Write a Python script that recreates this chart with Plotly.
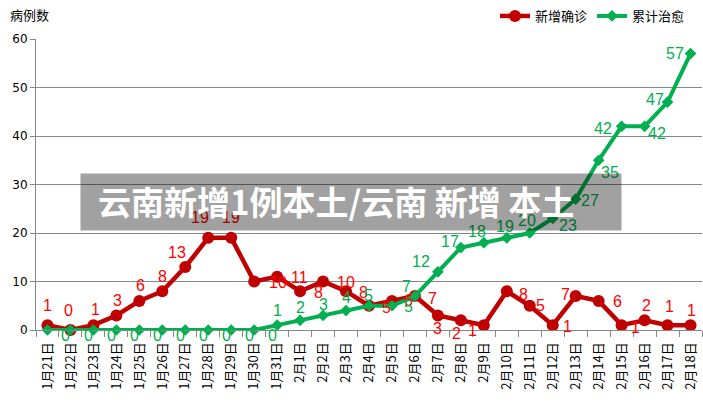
import plotly.graph_objects as go

dates = ["1月21日", "1月22日", "1月23日", "1月24日", "1月25日", "1月26日", "1月27日",
         "1月28日", "1月29日", "1月30日", "1月31日", "2月1日", "2月2日", "2月3日",
         "2月4日", "2月5日", "2月6日", "2月7日", "2月8日", "2月9日", "2月10日",
         "2月11日", "2月12日", "2月13日", "2月14日", "2月15日", "2月16日", "2月17日", "2月18日"]
new_cases = [1, 0, 1, 3, 6, 8, 13, 19, 19, 10, 11, 8, 10, 8, 5, 6, 7, 3, 2, 1, 8, 5, 1, 7, 6, 1, 2, 1, 1]
cured = [0, 0, 0, 0, 0, 0, 0, 0, 0, 0, 1, 2, 3, 4, 5, 5, 7, 12, 17, 18, 19, 20, 23, 27, 35, 42, 42, 47, 57]

# label offsets in screen pixels (dx right, dy down) — styling only
red_off = [(0, -20), (-2, -20), (2, -16), (1, -15), (1, -15), (0, -15), (-8, -14), (-8, -20),
           (0, -20), (24, 1), (22, 1), (18, 1), (23, 1), (17, 1), (17, 2), (17, 0), (18, 2),
           (0, 13), (-4, 13), (-11, 5), (17, 3), (11, 0), (15, 1), (-10, -2), (19, 1),
           (14, 2), (2, -15), (2, -19), (1, -15)]
green_off = [(18, 5)] * 10 + [(0, -15), (0, -13), (0, -11), (0, -13), (-1, -10), (17, 1),
                              (-8, -10), (-17, -10), (-11, -6), (-7, -11), (-2, -11), (-3, -13),
                              (15, 7), (14, 1), (11, 12), (-19, 2), (12, 7), (-13, -3), (-16, 0)]

NUMFONT = "Liberation Sans, DejaVu Sans, sans-serif"

fig = go.Figure()
fig.add_trace(go.Scatter(
    x=dates, y=new_cases, name="新增确诊", mode="lines+markers",
    line=dict(color="#C00000", width=4.5),
    marker=dict(symbol="circle", size=12, color="#C00000"), cliponaxis=False))
fig.add_trace(go.Scatter(
    x=dates, y=cured, name="累计治愈", mode="lines+markers",
    line=dict(color="#00B050", width=4),
    marker=dict(symbol="diamond", size=9, color="#00B050"), cliponaxis=False))

for d, v, (dx, dy) in zip(dates, new_cases, red_off):
    fig.add_annotation(x=d, y=v, xref="x", yref="y", text=str(v), showarrow=False,
                       xshift=dx, yshift=-dy, xanchor="center", yanchor="middle",
                       font=dict(color="#FF0000", size=16, family=NUMFONT))
for d, v, (dx, dy) in zip(dates, cured, green_off):
    fig.add_annotation(x=d, y=v, xref="x", yref="y", text=str(v), showarrow=False,
                       xshift=dx, yshift=-dy, xanchor="center", yanchor="middle",
                       font=dict(color="#00B050", size=16, family=NUMFONT))

L, R, T, B = 36, 1, 39, 73
W, H = 703, 403
pw, ph = W - L - R, H - T - B


def px(x):
    return (x - L) / pw


def py(y):
    return (H - B - y) / ph


fig.update_layout(
    width=W, height=H, margin=dict(l=L, r=R, t=T, b=B),
    paper_bgcolor="white", plot_bgcolor="white",
    font=dict(family="Noto Sans CJK SC, sans-serif", color="#000000"),
    showlegend=True,
    legend=dict(orientation="h", x=px(690), xanchor="right", y=py(16), yanchor="middle",
                font=dict(size=13, family="Noto Sans CJK SC"), itemwidth=30,
                bgcolor="rgba(0,0,0,0)"),
    xaxis=dict(type="category", range=[-0.5, len(dates) - 0.5], tickangle=-90,
               tickson="boundaries", ticks="outside", ticklen=6, tickcolor="#878787",
               ticklabelstandoff=6,
               showline=True, linecolor="#878787", linewidth=1, showgrid=False,
               tickfont=dict(size=13, family="Noto Sans CJK SC", color="#000")),
    yaxis=dict(range=[0, 60], dtick=10, ticks="outside", ticklen=5, tickcolor="#878787",
               showline=True, linecolor="#878787", linewidth=1,
               showgrid=True, gridcolor="#878787", gridwidth=1, zeroline=False,
               tickfont=dict(size=12, family="DejaVu Sans", color="#000")),
)

fig.add_annotation(text="病例数", x=px(8), y=py(14), xref="paper", yref="paper",
                   xanchor="left", yanchor="middle", showarrow=False,
                   font=dict(size=13, family="Noto Sans CJK SC", color="#000"))

# semi-transparent banner over the chart
fig.add_annotation(text=" ", x=px(80), y=py(173), xref="paper", yref="paper",
                   xanchor="left", yanchor="top", showarrow=False,
                   width=540, height=56, borderpad=0, bgcolor="rgba(0,0,0,0.37)",
                   font=dict(size=10))
fig.add_annotation(text="<b>云南新增1例本土/云南 新增 本土</b>", x=px(336), y=py(201),
                   xref="paper", yref="paper", xanchor="center", yanchor="middle",
                   showarrow=False,
                   font=dict(size=33, family="Noto Sans CJK SC", color="white"))

fig.write_html("out.html")
